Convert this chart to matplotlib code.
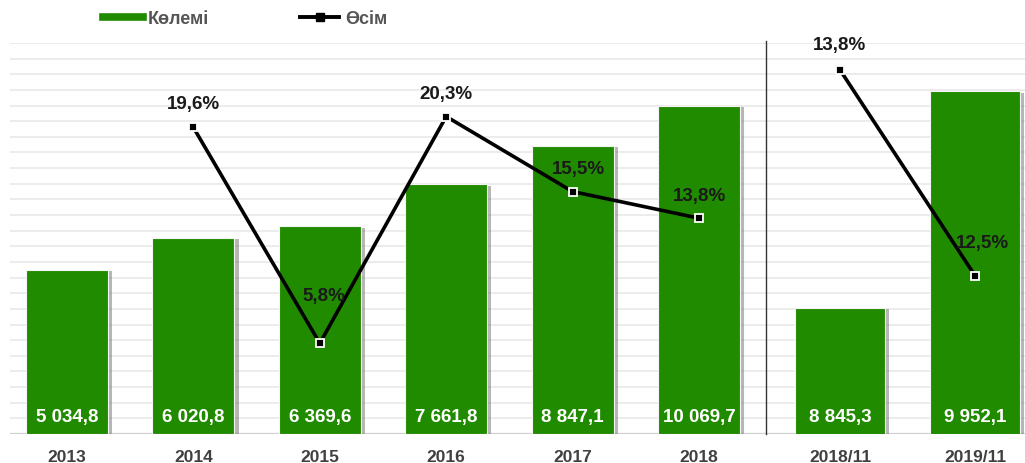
import matplotlib
matplotlib.use("Agg")
import matplotlib.pyplot as plt
import matplotlib.patheffects as pe
from matplotlib.lines import Line2D

plt.rcParams['font.family'] = ['Liberation Sans', 'DejaVu Sans']

# ---- data ----
years = ["2013", "2014", "2015", "2016", "2017", "2018"]
volume = [5034.8, 6020.8, 6369.6, 7661.8, 8847.1, 10069.7]
growth_idx = [1, 2, 3, 4, 5]
growth = [19.6, 5.8, 20.3, 15.5, 13.8]

months = ["2018/11", "2019/11"]
volume_m = [8845.3, 9952.1]
growth_m = [13.8, 12.5]

vol_labels = ["5 034,8", "6 020,8", "6 369,6", "7 661,8", "8 847,1", "10 069,7"]
vol_labels_m = ["8 845,3", "9 952,1"]
gr_labels = ["19,6%", "5,8%", "20,3%", "15,5%", "13,8%"]
gr_labels_m = ["13,8%", "12,5%"]

# label offsets (styling, px)
gr_off = [(0, 23), (4, 46), (0, 22), (6, 22), (0, 22)]
gr_off_m = [(0, 24), (7, 32)]

GREEN = "#218B00"
W, H = 1025, 464
fig = plt.figure(figsize=(W / 100, H / 100), dpi=100)

base = 435
top = 44
axh = (base - top) / H
axb = (H - base) / H

# background grid axes
bg = fig.add_axes([10 / W, axb, (W - 10) / W, axh])
bg.set_xlim(0, 1)
bg.set_ylim(0, 25)
for v in range(1, 26):
    bg.axhline(v, color="#ececec", lw=1.4, zorder=0)
bg.axhline(0, color="#d0d0d0", lw=1.6, zorder=0)
bg.axis("off")

shadow = [pe.SimplePatchShadow(offset=(3, -1), shadow_rgbFace="#7a7a7a", alpha=0.55), pe.Normal()]

def px2pt(p):
    return p * 0.75

def make_section(rect, xlim, ylim_bar, ylim_line, cats, vals, vlabels,
                 gidx, gvals, glabels, goffs, width):
    ax = fig.add_axes(rect)
    ax.patch.set_alpha(0)
    xs = list(range(len(cats)))
    bars = ax.bar(xs, vals, width=width, color=GREEN, edgecolor="#f4f4f4",
                  linewidth=0.8, zorder=3)
    for b in bars:
        b.set_path_effects(shadow)
    ax.set_xlim(*xlim)
    ax.set_ylim(*ylim_bar)
    ax.set_xticks(xs)
    ax.set_xticklabels(cats, fontsize=12.5, fontweight="bold", color="#404040")
    ax.tick_params(axis="x", length=0, pad=11)
    ax.set_yticks([])
    for s in ax.spines.values():
        s.set_visible(False)
    for x, lab in zip(xs, vlabels):
        ax.annotate(lab, xy=(x, 0), xycoords=ax.get_xaxis_transform(),
                    xytext=(0, px2pt(17)), textcoords="offset points",
                    ha="center", va="center", color="white",
                    fontsize=13.5, fontweight="bold", zorder=6)
    ax2 = ax.twinx()
    ax2.patch.set_alpha(0)
    ax2.set_ylim(*ylim_line)
    ax2.set_xlim(*xlim)
    ax2.axis("off")
    ax2.plot(gidx, gvals, color="black", lw=2.6, zorder=4, solid_capstyle="butt")
    ax2.plot(gidx, gvals, ls="none", marker="s", ms=6.3, mfc="black",
             mec="white", mew=1.3, zorder=5)
    for x, v, lab, (dx, dy) in zip(gidx, gvals, glabels, goffs):
        ax2.annotate(lab, xy=(x, v), xytext=(px2pt(dx), px2pt(dy)),
                     textcoords="offset points", ha="center", va="center",
                     color="#1a1a1a", fontsize=13.5, fontweight="bold", zorder=7)
    return ax, ax2

make_section([10 / W, axb, 756 / W, axh], (-0.451, 5.53), (0, 12000), (0, 25),
             years, volume, vol_labels, growth_idx, growth, gr_labels, gr_off, 0.65)
make_section([766 / W, axb, 259 / W, axh], (-0.548, 1.37), (8200, 10200), (11.5, 13.97),
             months, volume_m, vol_labels_m, [0, 1], growth_m, gr_labels_m, gr_off_m, 0.66)

# separator line
fig.add_artist(Line2D([766 / W, 766 / W], [1 - 42 / H, axb], color="#333333", lw=1.0))

# legend
handles = [Line2D([], [], color=GREEN, lw=5.5),
           Line2D([], [], color="black", lw=2.8, marker="s", ms=6)]
leg = fig.legend(handles, ["Көлемі", "Өсім"], ncol=2, frameon=False,
                 loc="center left", bbox_to_anchor=(103 / W, 1 - 20 / H),
                 borderpad=0, borderaxespad=0, handlelength=2.2,
                 handletextpad=0.3, columnspacing=5.0,
                 prop={"weight": "bold", "size": 13})
for t in leg.get_texts():
    t.set_color("#555555")

fig.savefig("out.png", dpi=100)
